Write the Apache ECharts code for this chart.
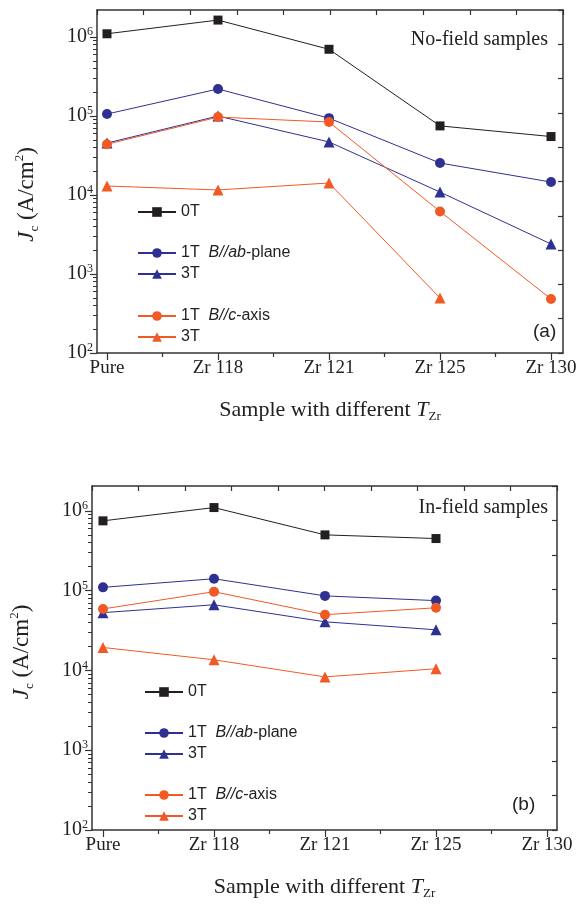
<!DOCTYPE html>
<html>
<head>
<meta charset="utf-8">
<script src="https://cdn.jsdelivr.net/npm/echarts@6/dist/echarts.min.js"></script>
<style>
html,body{margin:0;padding:0;background:#fff;}
#chart{width:580px;height:905px;}
</style>
</head>
<body>
<div id="chart"></div>
<script>
// 样品类别
var categories = ['Pure', 'Zr 118', 'Zr 121', 'Zr 125', 'Zr 130'];
var decadeTicks = [1e2, 1e3, 1e4, 1e5, 1e6];

// (a) 无场样品
var a_0T   = [1.1e6, 1.64e6, 7.0e5, 7.5e4, 5.5e4];
var a_1Tab = [1.06e5, 2.2e5, 9.4e4, 2.54e4, 1.46e4];
var a_3Tab = [4.55e4, 1.0e5, 4.7e4, 1.09e4, 2.4e3];
var a_1Tc  = [4.4e4, 9.7e4, 8.4e4, 6.2e3, 483];
var a_3Tc  = [1.3e4, 1.16e4, 1.42e4, 497, null];

// (b) 有场样品
var b_0T   = [7.5e5, 1.1e6, 5.0e5, 4.5e5, null];
var b_1Tab = [1.1e5, 1.41e5, 8.6e4, 7.5e4, null];
var b_3Tab = [5.3e4, 6.65e4, 4.07e4, 3.23e4, null];
var b_1Tc  = [5.9e4, 9.7e4, 5.0e4, 6.1e4, null];
var b_3Tc  = [1.94e4, 1.36e4, 8.3e3, 1.05e4, null];

var BLACK = '#231f20', BLUE = '#2e3192', ORANGE = '#f15a24', AXIS = '#333';
var SERIF = 'Liberation Serif', SANS = 'Liberation Sans';

// 次刻度 2..9
var minorTicks = [];
for (var d = 2; d < 6; d++) {
	for (var k = 2; k <= 9; k++) minorTicks.push(k * Math.pow(10, d));
}

function pts(arr){
	var out = [];
	for (var i = 0; i < arr.length; i++) {
		if (arr[i] != null) out.push([i, arr[i]]);
	}
	return out;
}

var legendNames = {
	'0T': '0T',
	'1T ab': '1T  {i|B//ab}-plane',
	'3T ab': '3T',
	'1T c': '1T  {i|B//c}-axis',
	'3T c': '3T'
};

function panelAxes(g, xmin, xmax, ymax, namePad){
	var xs = [{
		type: 'value', gridIndex: g, min: xmin, max: xmax, position: 'bottom',
		axisLine: {show: true, onZero: false, lineStyle: {color: AXIS, width: 1.5}},
		axisTick: {show: true, customValues: [0, 1, 2, 3, 4], length: 7, lineStyle: {color: AXIS, width: 1.2}},
		axisLabel: {customValues: [0, 1, 2, 3, 4], margin: 6, color: '#222', fontFamily: SERIF, fontSize: 19,
			formatter: function(v){ return categories[Math.round(v)]; }},
		splitLine: {show: false},
		name: 'Sample with different {i|T}{sub|Zr}', nameLocation: 'middle', nameGap: 44,
		nameTextStyle: {color: '#222', fontFamily: SERIF, fontSize: 22, lineHeight: 26,
			rich: {i: {fontFamily: SERIF, fontSize: 22, fontStyle: 'italic', color: '#222', lineHeight: 26},
				sub: {fontFamily: SERIF, fontSize: 13, color: '#222', verticalAlign: 'bottom'}}}
	}, {
		type: 'value', gridIndex: g, min: xmin, max: xmax, position: 'bottom',
		axisLine: {show: false, onZero: false},
		axisTick: {show: true, customValues: [0.5, 1.5, 2.5, 3.5], length: 4, lineStyle: {color: AXIS, width: 1.2}},
		axisLabel: {show: false}, splitLine: {show: false}
	}, {
		type: 'value', gridIndex: g, min: 0, max: 10, interval: 1, position: 'top',
		axisLine: {show: true, onZero: false, lineStyle: {color: AXIS, width: 1.5}},
		axisTick: {show: true, inside: true, length: 5, lineStyle: {color: AXIS, width: 1.2}},
		axisLabel: {show: false}, splitLine: {show: false}
	}];
	var ys = [{
		type: 'log', gridIndex: g, min: 100, max: ymax, position: 'left',
		axisLine: {show: true, onZero: false, lineStyle: {color: AXIS, width: 1.5}},
		axisTick: {show: true, customValues: decadeTicks, length: 7, lineStyle: {color: AXIS, width: 1.2}},
		axisLabel: {customValues: decadeTicks, margin: 4, color: '#222',
			formatter: function(v){ return '{b|10}{s|' + Math.round(Math.log(v) / Math.LN10) + '}'; },
			rich: {b: {fontFamily: SERIF, fontSize: 20, lineHeight: 22, color: '#222'},
				s: {fontFamily: SERIF, fontSize: 12, color: '#222', verticalAlign: 'top'}}},
		splitLine: {show: false},
		name: '{i|J}{sub|c} (A/cm{sup|2})', nameLocation: 'middle', nameRotate: 90, nameGap: 56,
		nameTextStyle: {color: '#222', fontFamily: SERIF, fontSize: 23, lineHeight: 28, padding: namePad,
			rich: {i: {fontFamily: SERIF, fontSize: 23, fontStyle: 'italic', color: '#222', lineHeight: 28},
				sub: {fontFamily: SERIF, fontSize: 13, color: '#222', verticalAlign: 'bottom'},
				sup: {fontFamily: SERIF, fontSize: 13, color: '#222', verticalAlign: 'top'}}}
	}, {
		type: 'log', gridIndex: g, min: 100, max: ymax, position: 'left',
		axisLine: {show: false, onZero: false},
		axisTick: {show: true, customValues: minorTicks, length: 4, lineStyle: {color: AXIS, width: 1}},
		axisLabel: {show: false}, splitLine: {show: false}
	}, {
		type: 'value', gridIndex: g, min: 0, max: 10, interval: 1, position: 'right',
		axisLine: {show: true, onZero: false, lineStyle: {color: AXIS, width: 1.5}},
		axisTick: {show: true, inside: true, length: 5, lineStyle: {color: AXIS, width: 1.2}},
		axisLabel: {show: false}, splitLine: {show: false}
	}];
	return {x: xs, y: ys};
}

function mkSeries(name, data, color, symbol, size, xi, yi){
	return {
		name: name, type: 'line', xAxisIndex: xi, yAxisIndex: yi,
		data: pts(data), symbol: symbol, symbolSize: size, showSymbol: true,
		lineStyle: {color: color, width: 1}, itemStyle: {color: color},
		animation: false, z: 3
	};
}

function mkLegend(names, left, top){
	return {
		data: names, left: left, top: top, orient: 'vertical', itemWidth: 38, itemHeight: 12,
		itemGap: 5, selectedMode: false, padding: 0,
		formatter: function(n){ return legendNames[n]; },
		textStyle: {fontFamily: SANS, fontSize: 16, color: '#222', lineHeight: 16,
			rich: {i: {fontFamily: SANS, fontSize: 16, fontStyle: 'italic', color: '#222'}}}
	};
}

var pa = panelAxes(0, -0.09, 4.108, 2.2e6, [0, 26, 0, 0]);
var pb = panelAxes(1, -0.099, 4.09, 2.05e6, [0, 0, 0, 12]);

var option = {
	backgroundColor: '#fff',
	animation: false,
	grid: [
		{left: 97, top: 10, width: 466, height: 343},
		{left: 92, top: 486, width: 465, height: 344}
	],
	xAxis: pa.x.concat(pb.x),
	yAxis: pa.y.concat(pb.y),
	title: [
		{text: 'No-field samples', right: 32, top: 30, padding: 0, textStyle: {fontFamily: SERIF, fontSize: 20, fontWeight: 'normal', color: '#222'}},
		{text: '(a)', left: 533, top: 322, padding: 0, textStyle: {fontFamily: SANS, fontSize: 19, fontWeight: 'normal', color: '#222'}},
		{text: 'In-field samples', right: 32, top: 498, padding: 0, textStyle: {fontFamily: SERIF, fontSize: 20, fontWeight: 'normal', color: '#222'}},
		{text: '(b)', left: 512, top: 795, padding: 0, textStyle: {fontFamily: SANS, fontSize: 19, fontWeight: 'normal', color: '#222'}}
	],
	legend: [
		mkLegend(['0T'], 137, 204),
		mkLegend(['1T ab', '3T ab'], 137, 245),
		mkLegend(['1T c', '3T c'], 137, 308),
		mkLegend(['0T'], 144, 684),
		mkLegend(['1T ab', '3T ab'], 144, 725),
		mkLegend(['1T c', '3T c'], 144, 787)
	],
	series: [
		mkSeries('0T', a_0T, BLACK, 'rect', 9, 0, 0),
		mkSeries('1T ab', a_1Tab, BLUE, 'circle', 10, 0, 0),
		mkSeries('3T ab', a_3Tab, BLUE, 'triangle', 11, 0, 0),
		mkSeries('1T c', a_1Tc, ORANGE, 'circle', 10, 0, 0),
		mkSeries('3T c', a_3Tc, ORANGE, 'triangle', 11, 0, 0),
		mkSeries('0T', b_0T, BLACK, 'rect', 9, 3, 3),
		mkSeries('1T ab', b_1Tab, BLUE, 'circle', 10, 3, 3),
		mkSeries('3T ab', b_3Tab, BLUE, 'triangle', 11, 3, 3),
		mkSeries('1T c', b_1Tc, ORANGE, 'circle', 10, 3, 3),
		mkSeries('3T c', b_3Tc, ORANGE, 'triangle', 11, 3, 3)
	]
};

var chart = echarts.init(document.getElementById('chart'));
chart.setOption(option);
</script>
</body>
</html>
